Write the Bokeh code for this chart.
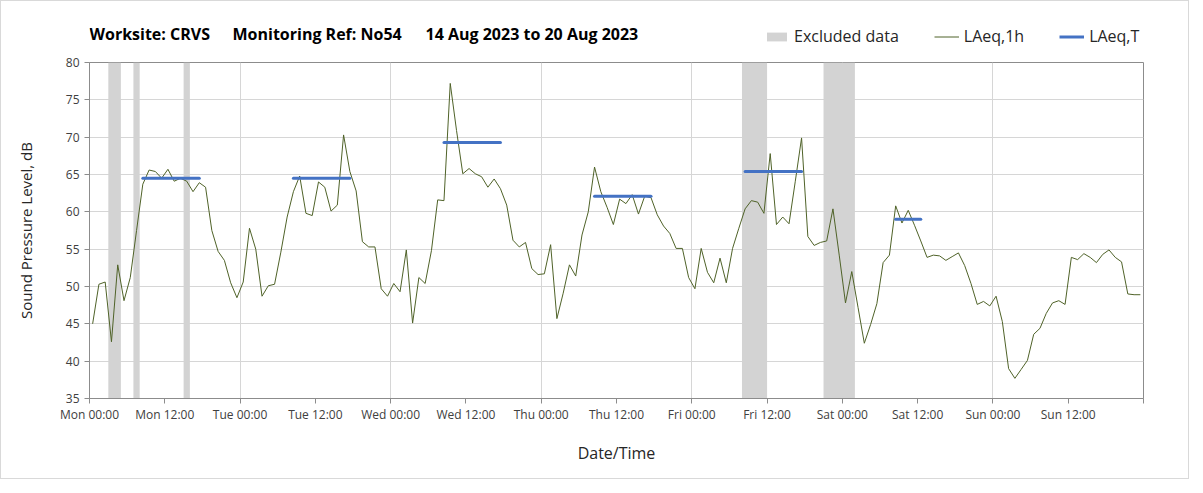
import numpy as np
from bokeh.plotting import figure
from bokeh.layouts import column
from bokeh.models import (ColumnDataSource, FixedTicker, SingleIntervalTicker, Legend,
                          LegendItem, Label)
from bokeh.embed import file_html
from bokeh.resources import INLINE

# ---------------- data ----------------
TITLE_PARTS = ["Worksite: CRVS", "Monitoring Ref: No54", "14 Aug 2023 to 20 Aug 2023"]
DAYS = ["Mon", "Tue", "Wed", "Thu", "Fri", "Sat", "Sun"]
TICK_LABELS = [f"{d} {t}" for d in DAYS for t in ("00:00", "12:00")]
SERIES_NAMES = ["Excluded data", "LAeq,1h", "LAeq,T"]

# hourly LAeq,1h values, Mon 00:00 .. Sun 23:00 (168 hours)
LAEQ_1H = [
    45.0, 50.3, 50.6, 42.6, 52.9, 48.1, 51.2, 57.5, 63.7, 65.6, 65.4, 64.5,
    65.7, 64.1, 64.5, 64.1, 62.7, 63.9, 63.3, 57.5, 54.7, 53.5, 50.5, 48.5,
    50.6, 57.8, 55.0, 48.7, 50.1, 50.3, 54.6, 59.3, 62.7, 64.8, 59.8, 59.5,
    64.0, 63.3, 60.1, 60.9, 70.3, 65.4, 62.8, 56.0, 55.3, 55.3, 49.7, 48.7,
    50.4, 49.3, 54.9, 45.1, 51.2, 50.4, 54.8, 61.6, 61.5, 77.2, 70.9, 65.1,
    65.8, 65.1, 64.7, 63.3, 64.4, 63.1, 60.9, 56.2, 55.3, 55.9, 52.4, 51.6,
    51.7, 55.6, 45.7, 49.1, 52.9, 51.4, 56.9, 60.0, 66.0, 62.7, 60.6, 58.3,
    61.7, 61.1, 62.3, 59.7, 62.1, 61.9, 59.6, 58.1, 57.1, 55.1, 55.1, 51.2,
    49.7, 55.1, 51.9, 50.5, 53.8, 50.5, 55.1, 57.8, 60.4, 61.5, 61.3, 59.8,
    67.8, 58.3, 59.3, 58.4, 64.1, 69.9, 56.7, 55.5, 55.9, 56.1, 60.4, 54.2,
    47.8, 52.0, 47.2, 42.4, 44.9, 47.7, 53.2, 54.2, 60.8, 58.5, 60.2, 58.2,
    56.1, 53.9, 54.2, 54.1, 53.5, 54.0, 54.5, 52.8, 50.4, 47.6, 48.0, 47.4,
    48.7, 45.3, 39.0, 37.7, 38.9, 40.1, 43.6, 44.4, 46.4, 47.8, 48.1, 47.6,
    53.9, 53.6, 54.4, 53.9, 53.2, 54.3, 54.9, 53.9, 53.3, 49.0, 48.9, 48.9,
]

# excluded periods (hours from Mon 00:00)
EXCL_START = [3, 7, 15, 104, 117]
EXCL_END = [5, 8, 16, 108, 122]

# LAeq,T assessment periods (hours from Mon 00:00) and values
PERIOD_START = [8, 32, 56, 80, 104, 128]
PERIOD_END = [18, 42, 66, 90, 114, 133]
LAEQ_T = [64.5, 64.5, 69.3, 62.1, 65.4, 59.0]

Y_MIN, Y_MAX = 35, 80
N_HOURS = 168

# ---------------- styles ----------------
FONT = "Open Sans"
TXT = "#404040"
AX = "#8c8c8c"
GRID = "#d6d6d6"
EXCL_COLOR = "#d3d3d3"
L1_COLOR = "#4f6228"
LT_COLOR = "#4472c4"

W = 1187
TOP_H = 53
MAIN_H = 477 - TOP_H

# ---------------- header (title + legend) ----------------
# (its plot frame is aligned with the main chart's frame by the column layout)
top = figure(width=W, height=TOP_H, x_range=(0, 1), y_range=(0, 1),
             output_backend="svg", toolbar_location=None,
             min_border_left=88, min_border_right=45,
             min_border_top=0, min_border_bottom=0,
             outline_line_color=None, background_fill_color="white",
             border_fill_color="white")
top.axis.visible = False
top.grid.visible = False

for xpos, txt in zip([0, 143, 336], TITLE_PARTS):
    top.add_layout(Label(x=xpos, y=TOP_H - 32, x_units="screen", y_units="screen",
                         text=txt, text_font=FONT, text_font_size="16px",
                         text_font_style="bold", text_baseline="middle",
                         text_align="left", text_color="#000000"))

# legend-only renderers (no visible data)
nan = [np.nan]
d_excl = top.quad(left=nan, right=nan, bottom=nan, top=nan, fill_color=EXCL_COLOR, line_color=None)
d_l1 = top.line(x=nan, y=nan, line_color=L1_COLOR, line_width=1)
d_lt = top.line(x=nan, y=nan, line_color=LT_COLOR, line_width=3)

legend = Legend(items=[LegendItem(label=SERIES_NAMES[0], renderers=[d_excl]),
                       LegendItem(label=SERIES_NAMES[1], renderers=[d_l1]),
                       LegendItem(label=SERIES_NAMES[2], renderers=[d_lt])],
                orientation="horizontal", location=(675, 7),
                glyph_width=25, glyph_height=11, label_standoff=5, spacing=35,
                padding=0, margin=0, border_line_alpha=0, background_fill_alpha=0,
                label_text_font=FONT, label_text_font_size="16px",
                label_text_color="#262626")
top.add_layout(legend)

# ---------------- main chart ----------------
p = figure(width=W, height=MAIN_H, x_range=(0, N_HOURS), y_range=(Y_MIN, Y_MAX),
           output_backend="svg", toolbar_location=None,
           min_border_left=88, min_border_right=45, min_border_top=8, min_border_bottom=80,
           background_fill_color="white", border_fill_color="white")

p.quad(left=EXCL_START, right=EXCL_END,
       bottom=[Y_MIN] * len(EXCL_START), top=[Y_MAX] * len(EXCL_START),
       fill_color=EXCL_COLOR, line_color=None)

hours = np.arange(len(LAEQ_1H)) + 0.5
p.line(hours, LAEQ_1H, line_color=L1_COLOR, line_width=1)

t_src = ColumnDataSource(dict(x0=np.array(PERIOD_START) + 0.5, x1=np.array(PERIOD_END) - 0.5,
                              y=LAEQ_T))
p.segment(x0="x0", y0="y", x1="x1", y1="y", source=t_src,
          line_color=LT_COLOR, line_width=3, line_cap="round")

# axes
p.xaxis.ticker = FixedTicker(ticks=list(range(0, N_HOURS + 1, 12)))
overrides = {i * 12: lab for i, lab in enumerate(TICK_LABELS)}
overrides[N_HOURS] = ""
p.xaxis.major_label_overrides = overrides
p.yaxis.ticker = SingleIntervalTicker(interval=5)

for ax in (p.xaxis[0], p.yaxis[0]):
    ax.axis_line_color = AX
    ax.major_tick_line_color = AX
    ax.major_tick_out = 5
    ax.major_tick_in = 0
    ax.minor_tick_line_color = None
    ax.major_label_text_font = FONT
    ax.major_label_text_font_size = "12px"
    ax.major_label_text_color = TXT
    ax.axis_label_text_font = FONT
    ax.axis_label_text_font_style = "normal"
    ax.axis_label_text_color = "#262626"

p.xaxis.axis_label = "Date/Time"
p.xaxis.axis_label_text_font_size = "16px"
p.xaxis.major_label_standoff = 2
p.xaxis.axis_label_standoff = 16
p.yaxis.axis_label = "Sound Pressure Level, dB"
p.yaxis.axis_label_text_font_size = "15px"
p.yaxis.major_label_standoff = 5
p.yaxis.axis_label_standoff = 27

p.xgrid.ticker = FixedTicker(ticks=list(range(0, N_HOURS + 1, 24)))
p.xgrid.grid_line_color = GRID
p.ygrid.grid_line_color = GRID
p.outline_line_color = AX

layout = column(top, p, spacing=0, styles={"border": "1px solid #d9d9d9"})

open("out.html", "w").write(file_html(layout, INLINE))
